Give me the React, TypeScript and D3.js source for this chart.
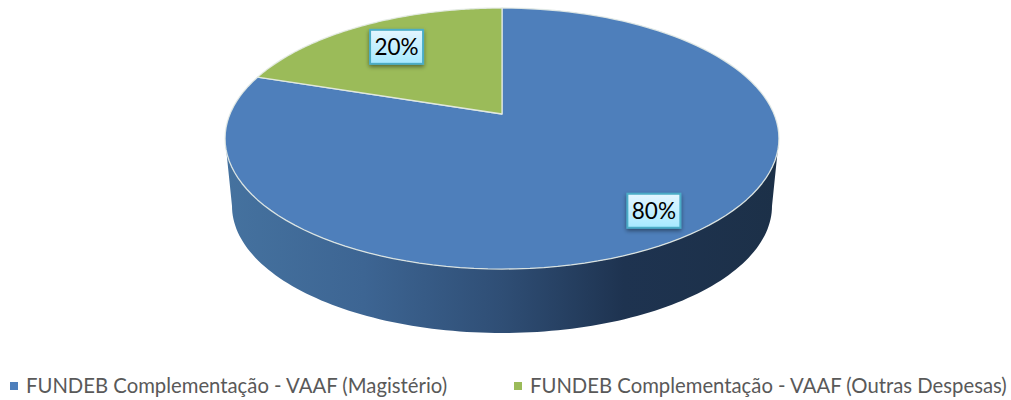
import React from 'react';
import * as d3 from 'd3';

const categories = ['FUNDEB Complementação - VAAF (Magistério)', 'FUNDEB Complementação - VAAF (Outras Despesas)'];
const shares = [80, 20];
const sliceColors = ['#4e7fbb', '#9bbb59'];
const labelRadius = [0.83, 0.733];
const legendX = [10, 514];

const width = 1011;
const height = 400;

// top face: circle seen in perspective
const cx = 502;
const apexY = 114;
const persp = 0.188;
const faceA = 272;
const faceB = 125.9;

// bottom rim of the side wall
const baseCy = 206;
const baseRx = 270;
const baseRy = 127;

const project = (angle: number, r = 1): [number, number] => {
  const u = Math.sin(angle) * r;
  const v = Math.cos(angle) * r;
  const w = 1 + persp * v;
  return [cx + (faceA * u) / w, apexY - (faceB * v) / w];
};

const sampleArc = (a0: number, a1: number) => d3.range(0, 121).map(i => project(a0 + ((a1 - a0) * i) / 120));

const line = d3.line();

const App: React.FC = () => {
  const arcs = d3.pie<number>().sort(null)(shares);

  // visible part of the side wall: from the right rim point round the front to the left one
  const rimStart = Math.PI / 2 + Math.asin(persp);
  const rimEnd = (3 * Math.PI) / 2 - Math.asin(persp);
  const frontRim = sampleArc(rimStart, rimEnd);
  const baseEdge = d3.range(0, 121).map((i): [number, number] => {
    const t = Math.PI * (1 - i / 120);
    return [cx + baseRx * Math.cos(t), baseCy + baseRy * Math.sin(t)];
  });
  const sidePath = line([...frontRim, ...baseEdge]) + 'Z';

  return (
    <svg width={width} height={height} style={{ position: 'absolute', left: 0, top: 0 }}>
      <defs>
        <linearGradient id="side" gradientUnits="userSpaceOnUse" x1={225} x2={779} y1={0} y2={0}>
          <stop offset="0" stopColor="#45729f" />
          <stop offset="0.25" stopColor="#3d6593" />
          <stop offset="0.5" stopColor="#2f4e75" />
          <stop offset="0.72" stopColor="#1e3350" />
          <stop offset="1" stopColor="#1c3048" />
        </linearGradient>
        <linearGradient id="labelFill" x1="0" x2="0" y1="0" y2="1">
          <stop offset="0" stopColor="#e4f6ff" />
          <stop offset="1" stopColor="#a6e9ff" />
        </linearGradient>
        <filter id="labelShadow" x="-20%" y="-20%" width="140%" height="150%">
          <feDropShadow dx="0" dy="2" stdDeviation="2" floodColor="#000" floodOpacity="0.45" />
        </filter>
      </defs>

      <path d={sidePath} fill="url(#side)" />

      {arcs.map((d, i) => {
        const rim = sampleArc(d.startAngle, d.endAngle);
        return (
          <path
            key={categories[i]}
            d={line([[cx, apexY], ...rim]) + 'Z'}
            fill={sliceColors[i]}
            stroke="#e4ebe6"
            strokeWidth={1.3}
            strokeOpacity={0.9}
            strokeLinejoin="round"
          />
        );
      })}

      {arcs.map((d, i) => {
        const [lx, ly] = project((d.startAngle + d.endAngle) / 2, labelRadius[i]);
        return (
          <g key={shares[i]} transform={`translate(${lx},${ly})`}>
            <rect
              x={-26.5}
              y={-17}
              width={53}
              height={34}
              fill="url(#labelFill)"
              stroke="#4bacc6"
              strokeWidth={2}
              filter="url(#labelShadow)"
            />
            <text textAnchor="middle" y={8} fontFamily="Lato, sans-serif" fontSize={22.5} fill="#000">
              {shares[i]}%
            </text>
          </g>
        );
      })}

      {categories.map((c, i) => (
        <g key={c}>
          <rect x={legendX[i]} y={382} width={8} height={8} fill={sliceColors[i]} />
          <text x={legendX[i] + 16} y={393} fontFamily="Lato, sans-serif" fontSize={20.3} fill="#595959">
            {c}
          </text>
        </g>
      ))}
    </svg>
  );
};

export default App;
